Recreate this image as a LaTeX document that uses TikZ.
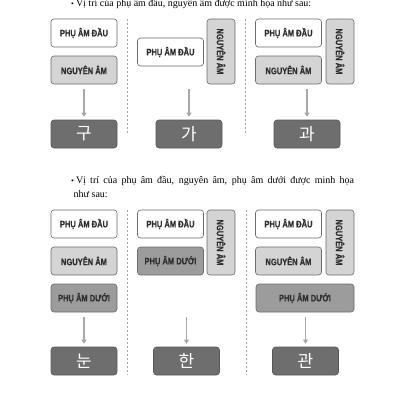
\documentclass[tikz,border=0pt]{standalone}
\usepackage{fontspec}
\setmainfont{Liberation Serif}
\newfontfamily\boxfont[FakeStretch=0.8, FakeBold=0.6]{Liberation Sans}
\newfontfamily\krfont{Noto Sans CJK KR}
\usepackage{xcolor}
\usetikzlibrary{arrows.meta}
\definecolor{lightbox}{HTML}{D4D4D4}
\definecolor{midbox}{HTML}{9C9C9C}
\definecolor{darkbox}{HTML}{6E6E6E}
\definecolor{rimgray}{HTML}{6A6A6A}
\definecolor{arrgray}{HTML}{A8A8A8}
\definecolor{labgray}{HTML}{2E2E2E}

\begin{document}
\begin{tikzpicture}[x=1pt, y=-1pt,
  part/.style={draw=rimgray, line width=0.6pt, rounded corners=3pt, fill=white, text=labgray,
    minimum width=66pt, minimum height=28pt, inner sep=0pt, font=\boxfont\bfseries\fontsize{9.4}{10}\selectfont},
  vowel/.style={part, fill=lightbox},
  final/.style={part, fill=midbox},
  upright/.style={vowel, rotate=-90, minimum width=65pt},
  syll/.style={part, fill=darkbox, draw=darkbox!80!black, text=white, font=\krfont\fontsize{17}{17}\selectfont},
  arr/.style={draw=arrgray, line width=1.6pt, -{Triangle[length=4pt,width=5pt]}, shorten <=5pt, shorten >=3pt},
  sep/.style={draw=gray!70, line width=0.6pt, dash pattern=on 2pt off 2pt}]
  \useasboundingbox (0,0) rectangle (400,400);

  \node[anchor=base west, inner sep=0pt] at (71,6.5) {{\footnotesize\textbullet}\hspace{2pt}Vị trí của phụ âm đầu, nguyên âm được minh họa như sau:};

  \node[part]  (a1) at (84,33) {PHỤ ÂM ĐẦU};
  \node[vowel] (a2) at (84,70) {NGUYÊN ÂM};
  \node[syll]  (ar) at (84,134) {구};
  \draw[arr] (a2) -- (ar);

  \node[part]   (b1) at (170.5,52) {PHỤ ÂM ĐẦU};
  \node[upright] (b2) at (221,51.5) {NGUYÊN ÂM};
  \node[syll]   (br) at (189,134) {가};
  \draw[arr] (br.north |- b2.east) -- (br);

  \node[part]   (c1) at (288.5,33) {PHỤ ÂM ĐẦU};
  \node[vowel]  (c2) at (288.5,70) {NGUYÊN ÂM};
  \node[upright] (c3) at (340,51.5) {NGUYÊN ÂM};
  \node[syll]   (cr) at (307,134) {과};
  \draw[arr] (cr.north |- c2.south) -- (cr);

  \draw[sep] (127,19) -- (127,135);
  \draw[sep] (245,19) -- (245,135);

  \node[anchor=base west, inner sep=0pt] at (71,183) {{\footnotesize\textbullet}\hspace{2pt}\makebox[278pt][s]{Vị trí của phụ âm đầu, nguyên âm, phụ âm dưới được minh họa}};
  \node[anchor=base west, inner sep=0pt] at (73.5,197.5) {như sau:};

  \node[part]  (d1) at (84,224) {PHỤ ÂM ĐẦU};
  \node[vowel] (d2) at (84,261) {NGUYÊN ÂM};
  \node[final] (d3) at (84,298) {PHỤ ÂM DƯỚI};
  \node[syll]  (dr) at (84,361) {눈};
  \draw[arr] (d3) -- (dr);

  \node[part]   (e1) at (170.5,224) {PHỤ ÂM ĐẦU};
  \node[final]  (e2) at (170.5,261) {PHỤ ÂM DƯỚI};
  \node[upright] (e3) at (221,242.5) {NGUYÊN ÂM};
  \node[syll]   (er) at (186.5,361) {한};
  \draw[arr] (er.north |- d3.south) -- (er);

  \node[part]   (f1) at (288.5,224) {PHỤ ÂM ĐẦU};
  \node[vowel]  (f2) at (288.5,261) {NGUYÊN ÂM};
  \node[upright] (f3) at (340,242.5) {NGUYÊN ÂM};
  \node[final, minimum width=98pt] (f4) at (305,298) {PHỤ ÂM DƯỚI};
  \node[syll]   (fr) at (305.5,361) {관};
  \draw[arr] (fr.north |- f4.south) -- (fr);

  \draw[sep] (127,210) -- (127,375);
  \draw[sep] (246,210) -- (246,375);
\end{tikzpicture}
\end{document}
